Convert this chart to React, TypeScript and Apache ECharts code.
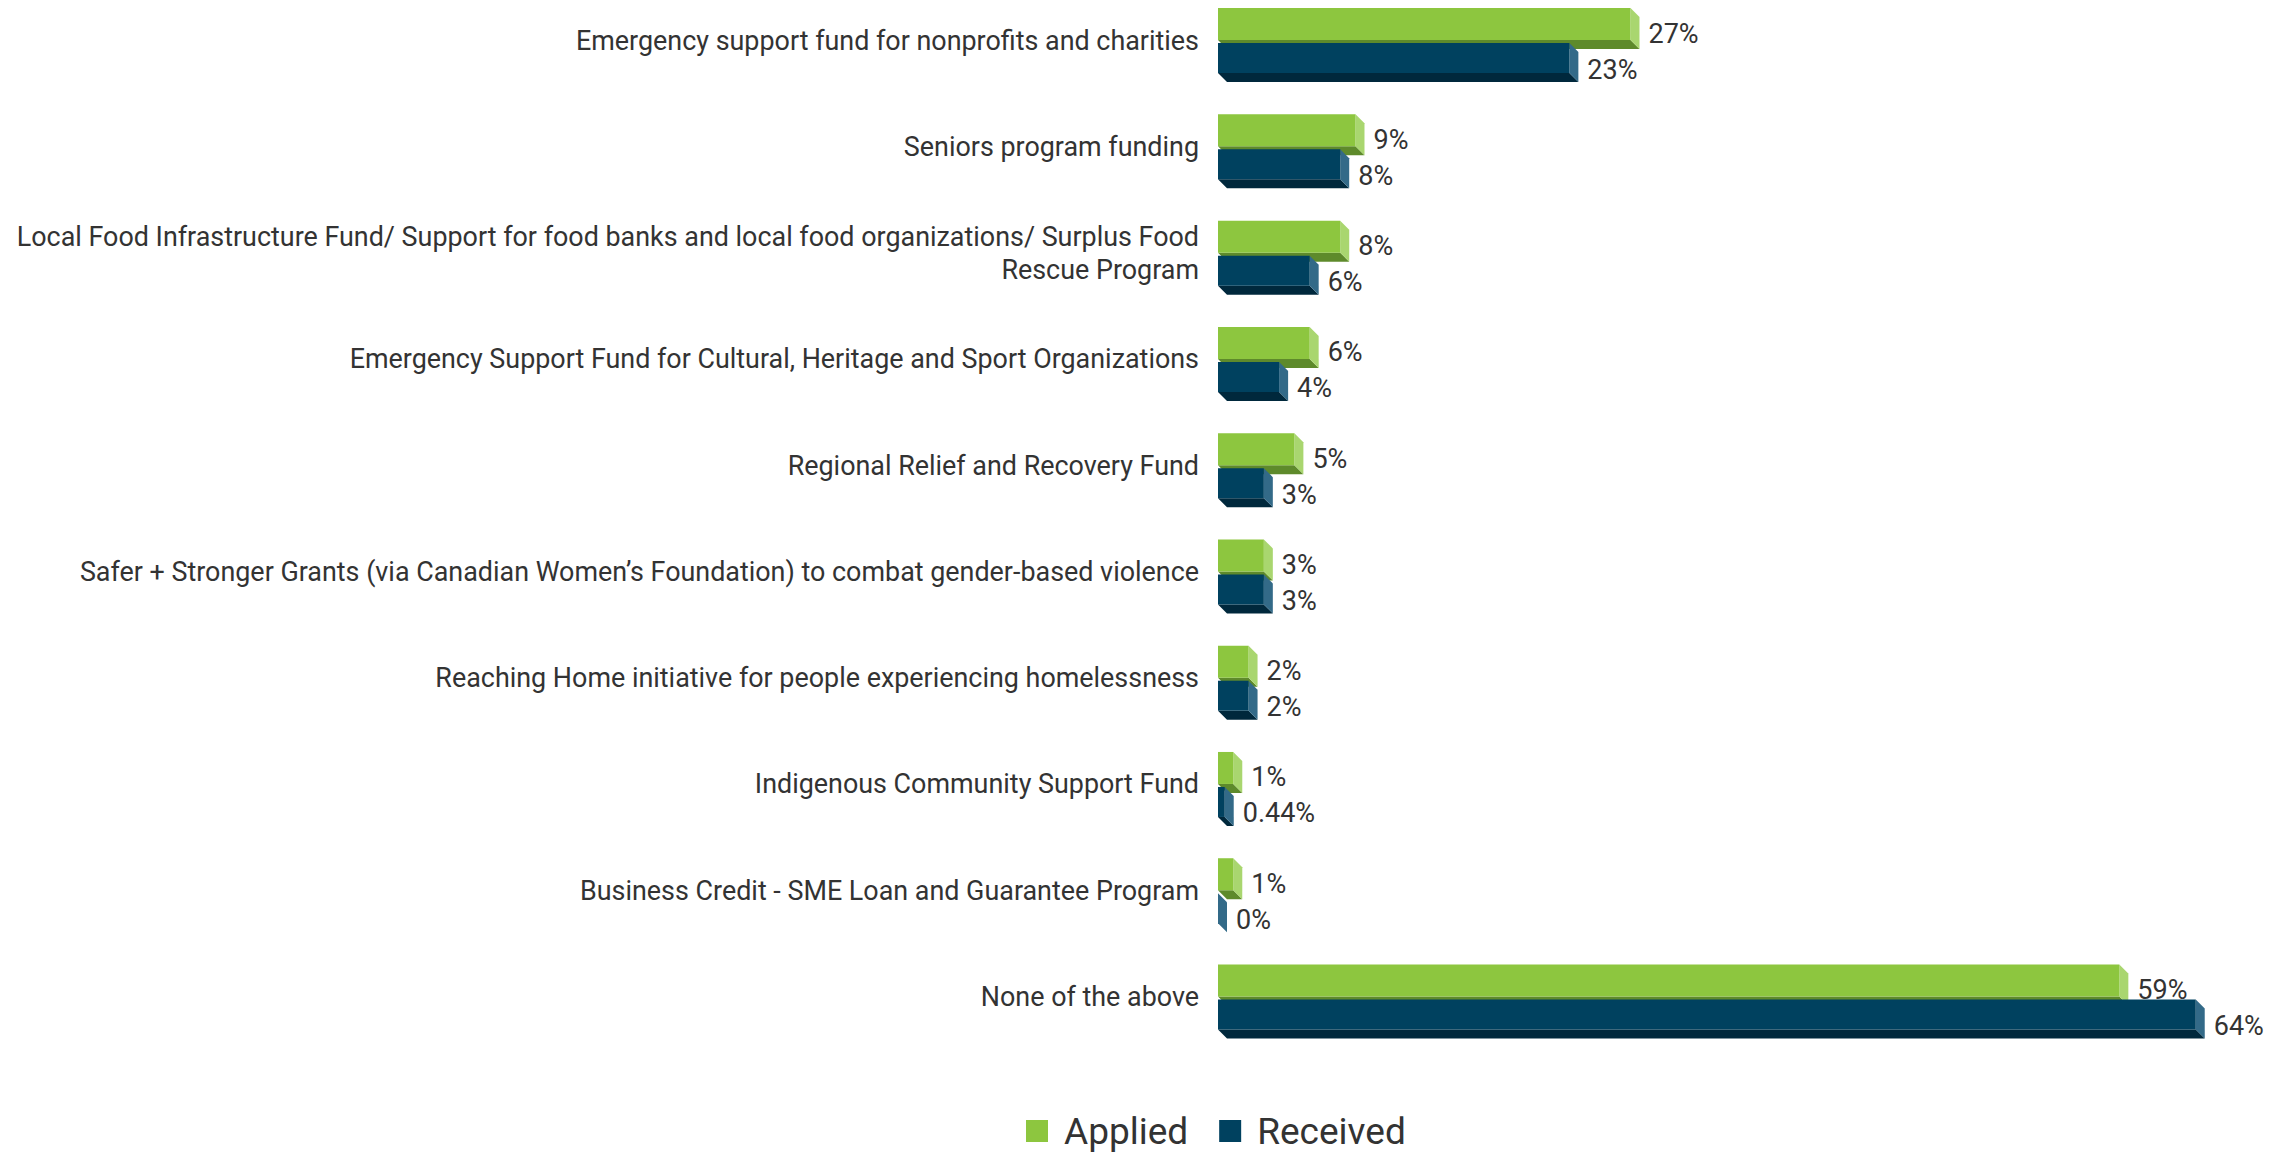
import React, { useEffect, useRef } from "react";
import * as echarts from "echarts";

const categories = [
  "Emergency support fund for nonprofits and charities",
  "Seniors program funding",
  "Local Food Infrastructure Fund/ Support for food banks and local food organizations/ Surplus Food\nRescue Program",
  "Emergency Support Fund for Cultural, Heritage and Sport Organizations",
  "Regional Relief and Recovery Fund",
  "Safer + Stronger Grants (via Canadian Women\u2019s Foundation) to combat gender-based violence",
  "Reaching Home initiative for people experiencing homelessness",
  "Indigenous Community Support Fund",
  "Business Credit - SME Loan and Guarantee Program",
  "None of the above",
];

const applied = [27, 9, 8, 6, 5, 3, 2, 1, 1, 59];
const received = [23, 8, 6, 4, 3, 3, 2, 0.44, 0, 64];

const seriesNames = ["Applied", "Received"];

const GREEN = { front: "#8DC63F", side: "#A9D66F", bottom: "#5E8A2B" };
const BLUE = { front: "#00415F", side: "#336A88", bottom: "#00283C" };

function make3D(colors: any, topOff: number, botOff: number, labelOff: number) {
  return (params: any, api: any) => {
    const idx = api.value(0);
    const val = api.value(1);
    const p0 = api.coord([0, idx]);
    const p1 = api.coord([val, idx]);
    const x0 = p0[0];
    const x1 = p1[0];
    const cy = p0[1];
    const top = cy + topOff;
    const bot = cy + botOff;
    const dx = 9;
    const dy = 9;
    return {
      type: "group",
      children: [
        {
          type: "polygon",
          shape: { points: [[x0, bot], [x1, bot], [x1 + dx, bot + dy], [x0 + dx, bot + dy]] },
          style: { fill: colors.bottom },
        },
        {
          type: "polygon",
          shape: { points: [[x1, top], [x1 + dx, top + dy], [x1 + dx, bot + dy], [x1, bot]] },
          style: { fill: colors.side },
        },
        {
          type: "rect",
          shape: { x: x0, y: top, width: Math.max(0, x1 - x0), height: bot - top },
          style: { fill: colors.front },
        },
        {
          type: "text",
          x: x1 + dx + 9,
          y: cy + labelOff,
          style: {
            text: val + "%",
            fill: "#333333",
            fontSize: 27,
            fontFamily: "Roboto",
            align: "left",
            verticalAlign: "middle",
          },
        },
      ],
    };
  };
}

export default function App() {
  const ref = useRef<HTMLDivElement>(null);
  useEffect(() => {
    if (!ref.current) return;
    const chart = echarts.init(ref.current, null, { renderer: "svg" });
    chart.setOption({
      animation: false,
      backgroundColor: "#ffffff",
      textStyle: { fontFamily: "Roboto" },
      grid: { left: 1218, right: 65, top: 40.6, bottom: 158, containLabel: false },
      legend: {
        top: 1106,
        left: 1021,
        icon: "rect",
        itemWidth: 22,
        itemHeight: 22,
        itemGap: 31,
        data: seriesNames,
        textStyle: {
          fontSize: 37,
          lineHeight: 40,
          color: "#333333",
          fontFamily: "Roboto",
          padding: [0, 0, 0, 11],
        },
      },
      xAxis: {
        type: "value",
        min: 0,
        max: 65,
        show: false,
      },
      yAxis: {
        type: "category",
        inverse: true,
        boundaryGap: false,
        data: categories,
        axisLine: { show: false },
        axisTick: { show: false },
        splitLine: { show: false },
        axisLabel: {
          interval: 0,
          margin: 19,
          fontSize: 26.9,
          lineHeight: 33,
          color: "#333333",
          fontFamily: "Roboto",
          align: "right",
        },
      },
      series: [
        {
          name: seriesNames[0],
          type: "custom",
          clip: false,
          itemStyle: { color: GREEN.front },
          encode: { x: 1, y: 0 },
          renderItem: make3D(GREEN, -32.5, -0.5, -7),
          data: applied.map((v, i) => [i, v]),
        },
        {
          name: seriesNames[1],
          type: "custom",
          clip: false,
          itemStyle: { color: BLUE.front },
          encode: { x: 1, y: 0 },
          renderItem: make3D(BLUE, 2.5, 32.5, 29),
          data: received.map((v, i) => [i, v]),
        },
      ],
    });
    return () => chart.dispose();
  }, []);
  return (
    <div
      ref={ref}
      style={{ position: "absolute", left: 0, top: 0, width: 2276, height: 1155 }}
    />
  );
}
